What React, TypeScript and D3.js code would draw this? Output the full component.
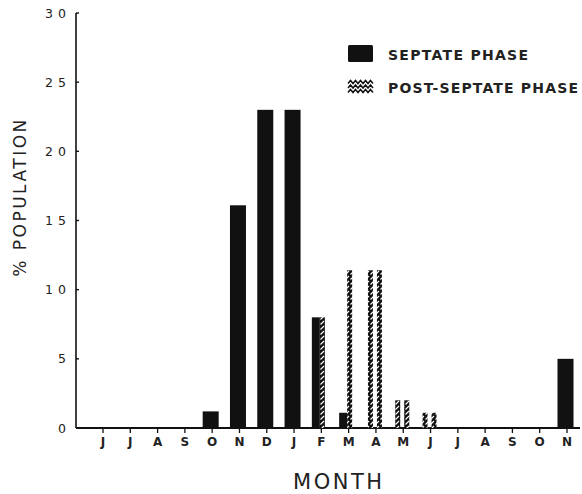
import React from "react";
import * as d3 from "d3";

const months = ["J", "J", "A", "S", "O", "N", "D", "J", "F", "M", "A", "M", "J", "J", "A", "S", "O", "N"];
const septate = [0, 0, 0, 0, 1.2, 16.1, 23.0, 23.0, 8.0, 1.1, 0, 0, 0, 0, 0, 0, 0, 5.0];
const postSeptate = [0, 0, 0, 0, 0, 0, 0, 0, 8.0, 11.4, 11.4, 2.0, 1.1, 0, 0, 0, 0, 0];
const yTicks = [0, 5, 10, 15, 20, 25, 30];
const yTickLabels = ["0", "5", "10", "15", "20", "25", "30"];
const legendLabels = ["SEPTATE PHASE", "POST-SEPTATE PHASE"];

const W = 582;
const H = 494;
const INK = "#111";
const FONT = "'DejaVu Sans', 'Liberation Sans', sans-serif";

export default function App() {
  const x = d3.scaleLinear().domain([0, months.length - 1]).range([103, 567]);
  const y = d3.scaleLinear().domain([0, 30]).range([428, 13]);
  const axisX0 = 76;
  const axisX1 = 580;
  const bandW = 16;
  const stripW = 5;

  const bars: React.ReactNode[] = [];
  months.forEach((m, i) => {
    const c = x(i) - 1.5;
    const left = c - bandW / 2;
    const s = septate[i];
    const p = postSeptate[i];
    if (s > 0) {
      const w = p > 0 ? bandW / 2 : bandW;
      bars.push(
        <rect key={`s${i}`} x={left} y={y(s)} width={w} height={y(0) - y(s)} fill={INK} />
      );
    }
    if (p > 0) {
      const strips = s > 0 ? [left + bandW / 2] : [left + 1.5, left + bandW - stripW - 0.5];
      strips.forEach((sx, k) => {
        bars.push(
          <rect key={`p${i}_${k}`} x={sx} y={y(p)} width={stripW} height={y(0) - y(p)} fill="url(#rope)" />
        );
      });
    }
  });

  const wave = (x0: number, yy: number, w: number) => {
    const pts: [number, number][] = [];
    for (let t = 0; t <= w; t += 2.5) {
      pts.push([x0 + t, yy + ((Math.round(t / 2.5) % 2) ? -1.5 : 1.5)]);
    }
    return d3.line()(pts) as string;
  };

  return (
    <svg width={W} height={H} style={{ display: "block", position: "absolute", left: 0, top: 0, background: "#fff" }}>
      <defs>
        <pattern id="rope" patternUnits="userSpaceOnUse" width="5" height="5">
          <rect width="5" height="5" fill={INK} />
          <line x1="0.5" y1="4.5" x2="4" y2="1" stroke="#fff" strokeWidth="1.1" />
        </pattern>
      </defs>
      <rect width={W} height={H} fill="#fff" />

      {/* y axis */}
      <line x1={axisX0} x2={axisX0} y1={y(30)} y2={y(0)} stroke={INK} strokeWidth={1.6} />
      {yTicks.map((t, i) => (
        <g key={`yt${i}`}>
          <line x1={axisX0} x2={axisX0 + 3} y1={y(t)} y2={y(t)} stroke={INK} strokeWidth={1.4} />
          <text
            x={t >= 10 ? 71 : 66}
            y={y(t) + 4.5}
            textAnchor="end"
            fontFamily={FONT}
            fontSize={12.5}
            letterSpacing={t >= 10 ? 5 : 0}
            fill="#222"
          >
            {yTickLabels[i]}
          </text>
        </g>
      ))}

      {/* x axis */}
      <line x1={axisX0} x2={axisX1} y1={y(0)} y2={y(0)} stroke={INK} strokeWidth={1.8} />
      {months.map((m, i) => (
        <g key={`xt${i}`}>
          <line x1={x(i)} x2={x(i)} y1={y(0)} y2={y(0) + 5} stroke={INK} strokeWidth={1.3} />
          <text x={x(i)} y={446} textAnchor="middle" fontFamily={FONT} fontSize={12} fontWeight="bold" fill="#222">
            {m}
          </text>
        </g>
      ))}

      {bars}

      {/* axis titles */}
      <text
        x={293}
        y={489}
        fontFamily={FONT}
        fontSize={21}
        textLength={89}
        lengthAdjust="spacing"
        fill="#222"
      >
        MONTH
      </text>
      <text
        transform={`translate(26,197) rotate(-90)`}
        textAnchor="middle"
        fontFamily={FONT}
        fontSize={17}
        letterSpacing={2.5}
        fill="#222"
      >
        % POPULATION
      </text>

      {/* legend */}
      <rect x={348} y={45} width={25} height={17} fill={INK} rx={1.5} />
      <text x={388} y={59.5} fontFamily={FONT} fontSize={14} fontWeight="bold" textLength={140} lengthAdjust="spacing" fill="#222">
        {legendLabels[0]}
      </text>
      {[0, 1, 2].map((k) => (
        <path key={`lw${k}`} d={wave(348, 82 + k * 4.5, 25)} fill="none" stroke={INK} strokeWidth={1.5} />
      ))}
      <text x={388} y={93} fontFamily={FONT} fontSize={14} fontWeight="bold" textLength={190} lengthAdjust="spacing" fill="#222">
        {legendLabels[1]}
      </text>
    </svg>
  );
}
